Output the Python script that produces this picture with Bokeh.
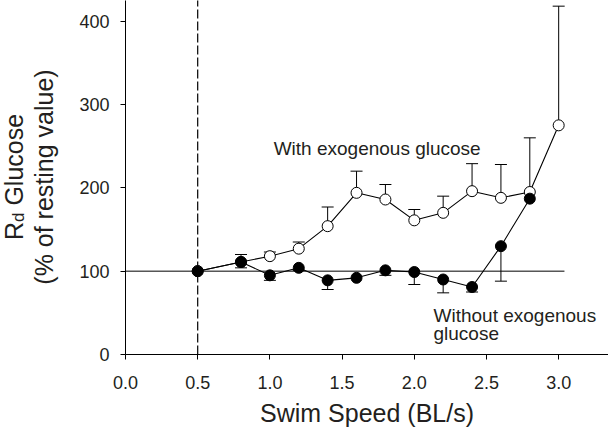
import math
from bokeh.plotting import figure
from bokeh.layouts import row
from bokeh.models import Label, FixedTicker, PrintfTickFormatter, Range1d
from bokeh.core.properties import value
from bokeh.embed import file_html
from bokeh.resources import INLINE

# ---- data ----
with_x = [0.5, 0.8, 1.0, 1.2, 1.4, 1.6, 1.8, 2.0, 2.2, 2.4, 2.6, 2.8, 3.0]
with_y = [100, 111, 118, 127, 154, 194, 186, 161, 170, 196, 188, 195, 275]
with_err_up = [0, 9, 5, 8, 23, 26, 18, 13, 20, 33, 40, 65, 143]

without_x = [0.5, 0.8, 1.0, 1.2, 1.4, 1.6, 1.8, 2.0, 2.2, 2.4, 2.6, 2.8]
without_y = [100, 111, 95, 104, 89, 92, 101, 99, 90, 81, 130, 187]
without_err_down = [0, 7, 6, 3, 11, 0, 6, 15, 16, 6, 42, 0]

x_ticks = [0.0, 0.5, 1.0, 1.5, 2.0, 2.5, 3.0]
y_ticks = [0, 100, 200, 300, 400]
baseline_value = 100
rest_speed = 0.5

FONT = "Liberation Sans"
TXT = "#231f20"
H = 431
FRAME_H = 354
BOTTOM = H - FRAME_H
LEFT_W = 70

# ---- main plot ----
p = figure(width=608 - LEFT_W, height=H, output_backend="svg", toolbar_location=None,
           x_range=Range1d(0, 3.345), y_range=Range1d(0, 424.8),
           min_border_left=125 - LEFT_W, min_border_right=0, min_border_top=0, min_border_bottom=BOTTOM)
p.outline_line_color = None
p.xgrid.visible = False
p.ygrid.visible = False

for ax in (p.xaxis[0], p.yaxis[0]):
    ax.axis_line_color = "black"
    ax.axis_line_width = 1
    ax.major_tick_line_color = "black"
    ax.major_tick_in = 0
    ax.major_tick_out = 5
    ax.minor_tick_line_color = None
    ax.major_label_text_font = FONT
    ax.major_label_text_font_size = "18px"
    ax.major_label_text_color = TXT

p.xaxis.ticker = FixedTicker(ticks=x_ticks)
p.xaxis.formatter = PrintfTickFormatter(format="%.1f")
p.xaxis.major_label_standoff = 16
p.xaxis.axis_label = "Swim Speed (BL/s)"
p.xaxis.axis_label_text_font = FONT
p.xaxis.axis_label_text_font_size = "25px"
p.xaxis.axis_label_text_font_style = "normal"
p.xaxis.axis_label_text_color = TXT
p.xaxis.axis_label_standoff = 7

p.yaxis.ticker = FixedTicker(ticks=y_ticks)
p.yaxis.major_label_standoff = 11

# reference lines
p.segment(x0=[0], y0=[baseline_value], x1=[3.04], y1=[baseline_value], line_color="black", line_width=1)
p.segment(x0=[rest_speed], y0=[0], x1=[rest_speed], y1=[430], line_color="black", line_width=1.2, line_dash="9 3")

# lines
p.line(with_x, with_y, line_color="black", line_width=1.1)
p.line(without_x, without_y, line_color="black", line_width=1.1)

# error bars
wu = [y + e for y, e in zip(with_y, with_err_up)]
wd = [y - e for y, e in zip(without_y, without_err_down)]
p.segment(x0=with_x, y0=with_y, x1=with_x, y1=wu, line_color="black", line_width=1)
p.scatter([x for x, e in zip(with_x, with_err_up) if e > 0], [v for v, e in zip(wu, with_err_up) if e > 0],
          marker="dash", size=12, line_color="black", line_width=1)
p.segment(x0=without_x, y0=without_y, x1=without_x, y1=wd, line_color="black", line_width=1)
p.scatter([x for x, e in zip(without_x, without_err_down) if e > 0], [v for v, e in zip(wd, without_err_down) if e > 0],
          marker="dash", size=12, line_color="black", line_width=1)

# markers
p.scatter(with_x, with_y, size=11, marker="circle", fill_color="white", line_color="black", line_width=1)
p.scatter(without_x, without_y, size=11, marker="circle", fill_color="black", line_color="black", line_width=1)

# annotations
p.add_layout(Label(x=1.743, y=246.8, text="With exogenous glucose", text_align="center",
                   text_baseline="alphabetic", text_font=FONT, text_font_size="19px", text_color=TXT))
p.add_layout(Label(x=2.133, y=46.6, text="Without exogenous", text_align="left",
                   text_baseline="alphabetic", text_font=FONT, text_font_size="19px", text_color=TXT))
p.add_layout(Label(x=2.133, y=25.0, text="glucose", text_align="left",
                   text_baseline="alphabetic", text_font=FONT, text_font_size="19px", text_color=TXT))

# ---- y-axis title panel (two lines, with subscript); coordinates = pixels ----
t = figure(width=LEFT_W, height=H, output_backend="svg", toolbar_location=None,
           x_range=Range1d(0, LEFT_W), y_range=Range1d(FRAME_H, 0),
           x_axis_location=None, y_axis_location=None,
           min_border=0, min_border_left=0, min_border_right=0, min_border_top=0,
           min_border_bottom=BOTTOM)
t.outline_line_color = None
t.xgrid.visible = False
t.ygrid.visible = False
ang = math.pi / 2
t.text(x=[13.8], y=[239.6], text=["R"], angle=ang, text_align="left", text_baseline="alphabetic",
       text_font=value(FONT), text_font_size=value("25px"), text_color=TXT)
t.text(x=[17.8], y=[221.5], text=["d"], angle=ang, text_align="left", text_baseline="alphabetic",
       text_font=value(FONT), text_font_size=value("17px"), text_color=TXT)
t.text(x=[13.8], y=[205.1], text=["Glucose"], angle=ang, text_align="left", text_baseline="alphabetic",
       text_font=value(FONT), text_font_size=value("25px"), text_color=TXT)
t.text(x=[43.5], y=[176.5], text=["(% of resting value)"], angle=ang, text_align="center",
       text_baseline="alphabetic", text_font=value(FONT), text_font_size=value("25px"), text_color=TXT)

layout = row(t, p, spacing=0)
open("out.html", "w").write(file_html(layout, INLINE))
